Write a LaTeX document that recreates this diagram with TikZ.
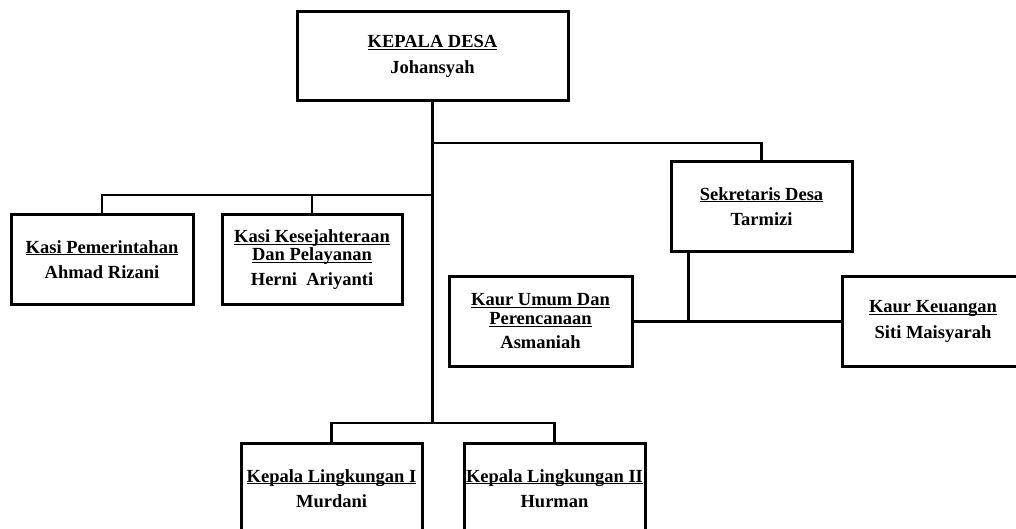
\documentclass[tikz,border=0pt]{standalone}
\usepackage{fontspec}
\setmainfont{Liberation Serif}
\newcommand{\uln}[1]{\setbox0\hbox{#1}\rlap{\rule[-2.4pt]{\wd0}{1.3pt}}\box0}
\begin{document}
\begin{tikzpicture}[x=1pt,y=-1pt,
  jabatan/.style={draw,line width=3pt,minimum width=181pt,minimum height=90pt,
    inner sep=0pt,align=center,font=\bfseries\fontsize{18.5}{18.5}\selectfont},
  garis/.style={line width=2.7pt}]
\clip (0,0) rectangle (1016,529);
\node[jabatan,minimum width=271pt,minimum height=89pt] (kades) at (432.5,56.5) {\uln{KEPALA DESA}\\[7pt]Johansyah};
\node[jabatan,minimum width=182pt] (kpem) at (102,259.5) {\uln{Kasi Pemerintahan}\\[7pt]Ahmad Rizani};
\node[jabatan,minimum width=180pt] (kkes) at (312,259.5) {\uln{Kasi Kesejahteraan}\\\uln{Dan Pelayanan}\\[6pt]Herni~~Ariyanti};
\node[jabatan,minimum height=89pt] (sekdes) at (761.5,206.5) {\uln{Sekretaris Desa}\\[7pt]Tarmizi};
\node[jabatan,minimum width=183pt] (kumum) at (540.5,321.5) {\uln{Kaur Umum Dan}\\\uln{Perencanaan}\\[6pt]Asmaniah};
\node[jabatan,minimum width=182pt] (kkeu) at (933,321.5) {\uln{Kaur Keuangan}\\[7pt]Siti Maisyarah};
\node[jabatan] (kling1) at (331.5,488.5) {\uln{Kepala Lingkungan I}\\[7pt]Murdani};
\node[jabatan] (kling2) at (554.5,488.5) {\uln{Kepala Lingkungan II}\\[7pt]Hurman};
\coordinate (jkasi) at (kades.south |- 0,195);
\coordinate (jsek) at (kades.south |- 0,143);
\coordinate (jling) at (kades.south |- 0,423);
\coordinate (jkaur) at ([xshift=19pt]sekdes.south west |- kumum.east);
\draw[garis] (kades.south) -- (jling);
\draw[garis] (jkasi) -| (kpem.north);
\draw[garis] (jkasi) -| (kkes.north);
\draw[garis] (jsek) -| (sekdes.north);
\draw[garis] (jling) -| (kling1.north);
\draw[garis] (jling) -| (kling2.north);
\draw[garis] ([xshift=19pt]sekdes.south west) -- (jkaur);
\draw[garis] (kumum.east) -- (kkeu.west);
\end{tikzpicture}
\end{document}
